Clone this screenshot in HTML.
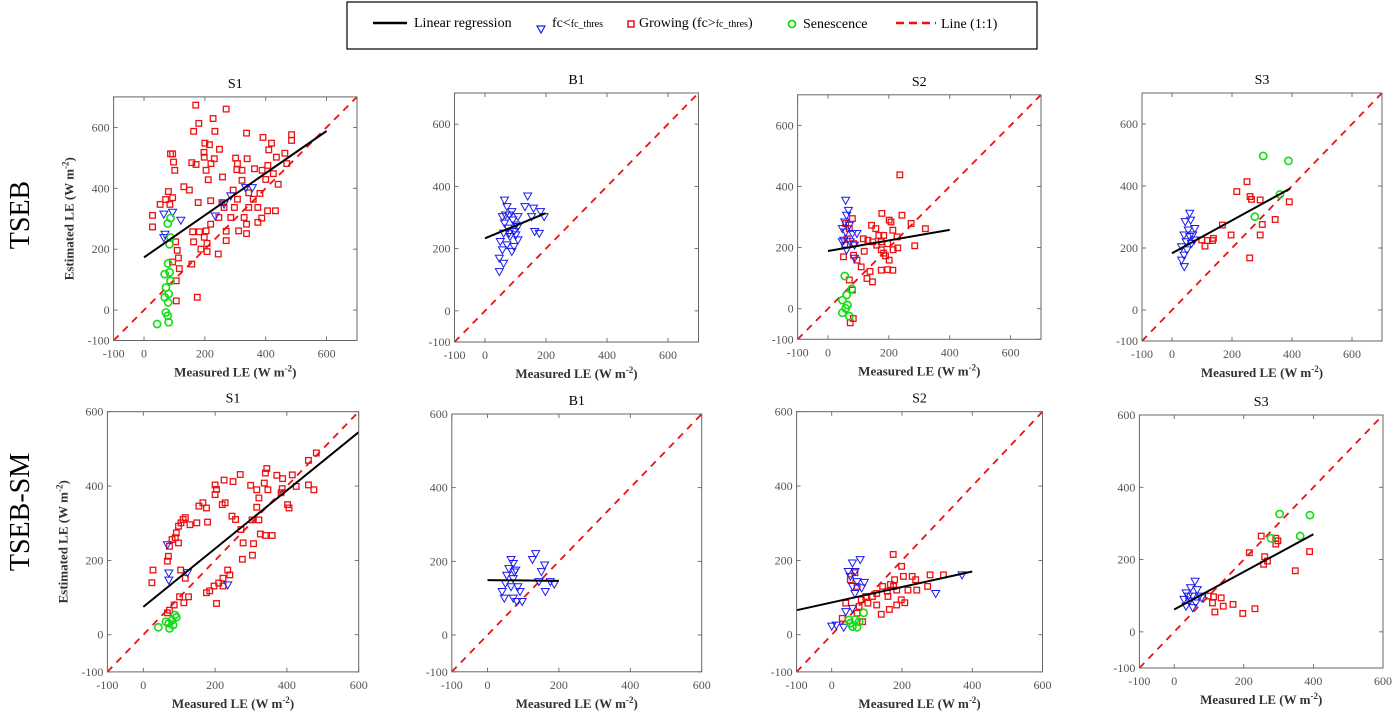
<!DOCTYPE html>
<html><head><meta charset="utf-8"><style>
html,body{margin:0;padding:0;background:#fff;}
svg{display:block;font-family:"Liberation Serif",serif;}
</style></head><body>
<svg id="fig" width="1393" height="713" viewBox="0 0 1393 713" xmlns="http://www.w3.org/2000/svg">
<g>
<rect x="347" y="2" width="690" height="47" fill="#fff" stroke="#000" stroke-width="1.2"/>
<g><line x1="373" y1="23" x2="407" y2="23" stroke="#000" stroke-width="2.5"/><text x="414" y="27" font-size="14">Linear regression</text></g>
<g><path d="M537,26 L545,26 L541,33 Z" fill="none" stroke="#1a1aee" stroke-width="1.2"/><text x="552" y="27" font-size="14">fc&lt;<tspan font-size="10">fc_thres</tspan></text></g>
<g><rect x="628" y="21" width="6" height="6" fill="none" stroke="#ee1111" stroke-width="1.5"/><text x="639" y="27" font-size="14">Growing (fc&gt;<tspan font-size="10">fc_thres</tspan>)</text></g>
<g><circle cx="792" cy="24" r="3.5" fill="none" stroke="#11dd11" stroke-width="1.8"/><text x="803" y="28" font-size="14">Senescence</text></g>
<g><line x1="896" y1="23" x2="936" y2="23" stroke="#ee1111" stroke-width="2.5" stroke-dasharray="8,5"/><text x="941" y="28" font-size="14">Line (1:1)</text></g>
</g>
<text transform="translate(29,215) rotate(-90)" text-anchor="middle" font-size="28">TSEB</text>
<text transform="translate(29,512) rotate(-90)" text-anchor="middle" font-size="28">TSEB-SM</text>
</svg>
<script>
// ---- data (W m-2): [measured, estimated] ----
const panelTitles = ["S1","B1","S2","S3","S1","B1","S2","S3"];
const tickValues = [-100,0,200,400,600];
const topS1_fc = [[65,315],[94,321],[121,295],[69,249],[65,238],[234,309],[285,375],[356,402],[334,402],[263,348]];
const topS1_grow = [[170,673],[270,660],[180,613],[227,629],[163,587],[233,587],[337,581],[391,567],[485,576],[485,557],[419,548],[410,526],[248,528],[200,548],[215,543],[197,518],[231,497],[301,499],[339,497],[435,502],[463,515],[307,481],[198,502],[94,513],[97,486],[157,484],[171,478],[220,481],[101,459],[204,459],[258,437],[211,428],[305,461],[322,459],[363,464],[388,459],[407,475],[469,481],[425,448],[400,429],[441,413],[322,426],[293,394],[344,385],[381,383],[131,405],[149,394],[80,389],[94,369],[71,363],[85,347],[53,347],[28,311],[28,273],[178,353],[219,359],[256,353],[263,337],[297,337],[344,337],[374,337],[406,326],[432,326],[359,364],[307,364],[246,304],[285,304],[329,304],[374,288],[387,302],[337,282],[219,282],[204,260],[160,257],[182,257],[198,239],[207,219],[187,200],[207,192],[244,184],[270,228],[311,260],[337,251],[270,259],[104,224],[109,196],[113,171],[94,158],[116,136],[157,151],[163,224],[175,42],[106,96],[106,30],[87,513]];
const topS1_sen = [[87,302],[78,284],[87,238],[84,216],[79,153],[84,124],[68,118],[87,96],[72,74],[81,53],[68,42],[79,25],[72,-8],[78,-19],[81,-40],[43,-46]];
const topS1_reg = [0,173,600,588];
const topB1_fc = [[64,356],[72,335],[79,308],[57,303],[91,292],[64,282],[101,276],[76,266],[95,255],[61,250],[82,239],[108,228],[50,223],[72,212],[95,207],[57,196],[88,191],[47,169],[61,153],[47,126],[79,250],[101,244],[140,369],[131,335],[153,303],[159,330],[182,319],[194,303],[163,255],[178,249],[108,271],[88,319],[67,308],[108,303]];
const topB1_reg = [0,233,199,314];
const topS2_fc = [[58,355],[67,322],[61,306],[55,284],[70,273],[47,262],[58,251],[80,246],[95,246],[52,224],[73,219],[87,208],[61,192],[87,165],[47,219]];
const topS2_grow = [[236,438],[177,312],[243,306],[273,279],[320,262],[201,290],[207,284],[143,273],[157,262],[167,240],[213,257],[183,240],[227,235],[116,229],[131,224],[147,219],[160,208],[175,219],[196,213],[285,206],[229,199],[214,193],[119,188],[175,193],[183,182],[189,173],[201,159],[84,175],[95,159],[109,137],[175,126],[196,128],[213,126],[138,122],[128,99],[146,88],[70,94],[80,61],[83,-32],[73,-46],[58,279],[70,262],[80,295],[63,229],[55,208],[51,170],[84,213]];
const topS2_sen = [[55,107],[61,45],[47,28],[64,12],[47,-13],[70,-24],[78,65],[58,1]];
const topS2_reg = [0,189,400,258];
const topS3_fc = [[59,312],[62,290],[44,285],[76,263],[54,258],[40,242],[69,242],[47,220],[65,215],[32,204],[50,194],[40,177],[32,161],[41,140],[74,226],[59,237]];
const topS3_grow = [[250,414],[216,382],[260,366],[265,357],[294,355],[391,349],[344,292],[301,276],[168,274],[197,242],[294,242],[99,226],[118,224],[138,231],[135,224],[110,206],[259,168]];
const topS3_sen = [[304,497],[388,481],[360,373],[276,301]];
const topS3_reg = [0,183,394,392];
const botS1_fc = [[67,242],[71,166],[71,147],[123,167],[235,134]];
const botS1_grow = [[482,489],[460,469],[475,390],[460,403],[426,399],[415,430],[387,393],[402,350],[406,341],[384,382],[372,429],[388,420],[344,447],[340,435],[347,390],[337,408],[316,390],[299,402],[322,368],[316,343],[303,309],[322,309],[340,267],[359,267],[326,271],[307,245],[304,214],[270,431],[250,412],[225,416],[200,403],[204,391],[200,377],[220,350],[228,355],[247,319],[257,310],[272,283],[278,247],[276,203],[166,355],[155,346],[176,341],[179,303],[149,301],[130,296],[111,310],[105,301],[117,315],[98,292],[92,274],[89,261],[80,256],[98,247],[73,238],[70,211],[67,198],[27,174],[24,140],[235,174],[241,161],[222,152],[210,139],[197,131],[185,118],[176,113],[204,84],[222,131],[104,174],[117,152],[126,102],[113,86],[101,102],[86,80],[73,66],[67,59]];
const botS1_sen = [[42,20],[71,31],[80,39],[88,53],[83,26],[73,17],[92,47],[63,35]];
const botS1_reg = [0,75,600,545];
const botB1_fc = [[66,205],[72,194],[60,180],[79,176],[54,162],[72,153],[50,140],[66,131],[85,131],[41,118],[91,118],[47,100],[72,100],[82,91],[97,91],[135,221],[126,205],[160,190],[151,172],[176,145],[187,138],[162,118],[144,145],[75,171]];
const botB1_reg = [0,149,200,147];
const botS2_fc = [[81,202],[59,193],[47,170],[66,170],[53,157],[72,143],[59,130],[93,141],[85,126],[40,62],[59,71],[0,23],[34,20],[13,26],[296,111],[371,161],[66,111]];
const botS2_grow = [[175,216],[199,184],[204,157],[229,157],[280,161],[318,161],[239,148],[179,148],[167,135],[145,130],[185,120],[217,120],[242,120],[273,130],[158,117],[176,130],[128,111],[116,103],[160,103],[128,80],[103,85],[198,94],[208,86],[185,80],[164,68],[141,55],[66,167],[53,148],[72,130],[40,85],[30,44],[78,76],[72,58],[84,94],[97,103],[88,35]];
const botS2_sen = [[53,31],[66,40],[78,35],[59,22],[91,59],[72,20],[49,40]];
const botS2_reg = [-100,66,400,170];
const botS3_fc = [[60,140],[47,122],[66,117],[34,108],[53,99],[72,99],[28,90],[44,85],[62,80],[34,71],[53,67],[79,94],[41,99]];
const botS3_grow = [[250,265],[216,219],[292,259],[298,252],[292,243],[260,208],[268,196],[257,187],[389,222],[348,169],[98,99],[113,97],[135,94],[110,80],[141,71],[117,55],[169,76],[232,64],[197,51]];
const botS3_sen = [[303,326],[390,323],[278,259],[362,265]];
const botS3_reg = [0,62,400,270];

// ---- layout (pixels) ----
const panels = [
 {fc:topS1_fc,grow:topS1_grow,sen:topS1_sen,reg:topS1_reg,d:[-100,700],px:[113.6,357],py:[340.5,96.9],ylab:true},
 {fc:topB1_fc,grow:[],sen:[],reg:topB1_reg,d:[-100,700],px:[454.5,698.5],py:[342,93]},
 {fc:topS2_fc,grow:topS2_grow,sen:topS2_sen,reg:topS2_reg,d:[-100,700],px:[797.6,1041],py:[339.3,94.8]},
 {fc:topS3_fc,grow:topS3_grow,sen:topS3_sen,reg:topS3_reg,d:[-100,700],px:[1142,1382],py:[341,93]},
 {fc:botS1_fc,grow:botS1_grow,sen:botS1_sen,reg:botS1_reg,d:[-100,600],px:[107.4,358.7],py:[671.9,411.7],ylab:true},
 {fc:botB1_fc,grow:[],sen:[],reg:botB1_reg,d:[-100,600],px:[451.8,701.7],py:[671.8,414]},
 {fc:botS2_fc,grow:botS2_grow,sen:botS2_sen,reg:botS2_reg,d:[-100,600],px:[796.6,1042.5],py:[671.9,411.7]},
 {fc:botS3_fc,grow:botS3_grow,sen:botS3_sen,reg:botS3_reg,d:[-100,600],px:[1139.4,1383],py:[668,415]}
];
const NS="http://www.w3.org/2000/svg";
const svg=document.getElementById('fig');
function mk(tag,attrs,parent){const e=document.createElementNS(NS,tag);for(const k in attrs)e.setAttribute(k,attrs[k]);(parent||svg).appendChild(e);return e;}
panels.forEach((p,i)=>{
  const g=mk('g',{});
  
  
  const [d0,d1]=p.d;
  const X=v=>p.px[0]+(v-d0)/(d1-d0)*(p.px[1]-p.px[0]);
  const Y=v=>p.py[0]+(v-d0)/(d1-d0)*(p.py[1]-p.py[0]);
  const L=p.px[0],R=p.px[1],B=p.py[0],T=p.py[1];
  const clipId='clip'+i;
  const cp=mk('clipPath',{id:clipId},g);mk('rect',{x:L,y:T,width:R-L,height:B-T},cp);
  const title=mk('text',{x:(L+R)/2,y:T-9,'text-anchor':'middle','font-size':14},g);
  title.textContent=panelTitles[i];
  
  
  tickValues.forEach(t=>{
    const x=X(t),y=Y(t);
    mk('line',{x1:x,y1:B,x2:x,y2:B-4,stroke:'#555','stroke-width':0.8},g);
    mk('line',{x1:x,y1:T,x2:x,y2:T+4,stroke:'#555','stroke-width':0.8},g);
    mk('line',{x1:L,y1:y,x2:L+4,y2:y,stroke:'#555','stroke-width':0.8},g);
    mk('line',{x1:R,y1:y,x2:R-4,y2:y,stroke:'#555','stroke-width':0.8},g);
    const xt=mk('text',{x:x,y:B+17,'text-anchor':'middle','font-size':12,fill:'#555'},g);xt.textContent=t;
    
    
    const yt=mk('text',{x:L-4,y:y+4,'text-anchor':'end','font-size':12,fill:'#555'},g);yt.textContent=t;
    
    
  });
  const oo=mk('line',{x1:X(d0),y1:Y(d0),x2:X(d1),y2:Y(d1),stroke:'#ee1111','stroke-width':1.8,'stroke-dasharray':'7,6','clip-path':'url(#'+clipId+')'},g);
  
  
  const mg=mk('g',{'clip-path':'url(#'+clipId+')'},g);
  p.grow.forEach(([a,b])=>{
    const r=mk('rect',{x:X(a)-2.8,y:Y(b)-2.8,width:5.6,height:5.6,fill:'none',stroke:'#ee1111','stroke-width':1.3},mg);
    
    
  });
  p.fc.forEach(([a,b])=>{
    const x=X(a),y=Y(b);
    const t=mk('path',{d:`M${x-4},${y-3} L${x+4},${y-3} L${x},${y+4} Z`,fill:'none',stroke:'#1a1aee','stroke-width':1},mg);
    
    
  });
  p.sen.forEach(([a,b])=>{
    const c=mk('circle',{cx:X(a),cy:Y(b),r:3.6,fill:'none',stroke:'#11dd11','stroke-width':1.6},mg);
    
    
  });
  const rg=mk('line',{x1:X(p.reg[0]),y1:Y(p.reg[1]),x2:X(p.reg[2]),y2:Y(p.reg[3]),stroke:'#000','stroke-width':2,'clip-path':'url(#'+clipId+')'},g);
  
  
  const box=mk('rect',{x:L,y:T,width:R-L,height:B-T,fill:'none',stroke:'#666','stroke-width':1},g);
  
  
  const xl=mk('text',{x:(L+R)/2,y:B+36,'text-anchor':'middle','font-size':13,'font-weight':'bold',fill:'#333'},g);
  xl.innerHTML='Measured LE (W m<tspan dy="-5" font-size="9">-2</tspan><tspan dy="5">)</tspan>';
  
  
  if(p.ylab){
    const yl=mk('text',{transform:`translate(${L-40},${(T+B)/2}) rotate(-90)`,'text-anchor':'middle','font-size':13,'font-weight':'bold',fill:'#333'},g);
    yl.innerHTML='Estimated LE (W m<tspan dy="-5" font-size="9">-2</tspan><tspan dy="5">)</tspan>';
    
    
  }
});
</script>
</body></html>
